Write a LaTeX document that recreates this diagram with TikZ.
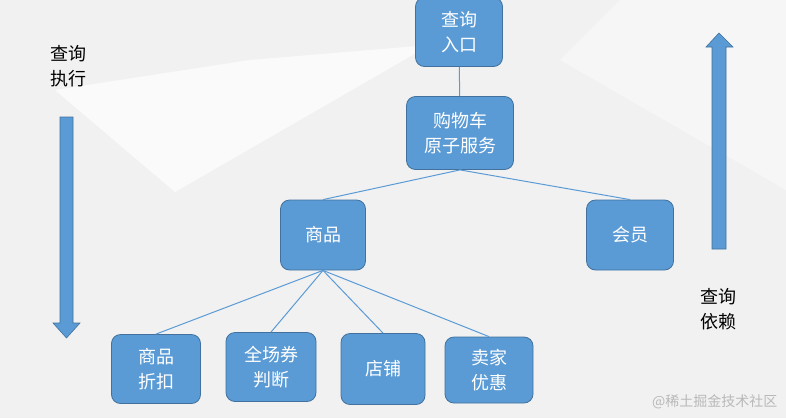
\documentclass[tikz,border=0pt]{standalone}
\usepackage{fontspec}
\setmainfont{Noto Sans CJK SC}
\definecolor{boxblue}{HTML}{5B9BD5}
\definecolor{boxline}{HTML}{41719C}
\definecolor{bggray}{HTML}{F1F1F1}

\begin{document}
\begin{tikzpicture}[x=1pt,y=-1pt,
	box/.style={rectangle,rounded corners=9pt,draw=boxline,fill=boxblue,text=white,
		font=\fontsize{18}{25}\selectfont,align=center,inner sep=0pt,line width=0.8pt},
	link/.style={draw=boxblue,line width=1pt},
	bigarrow/.style={draw=boxline,fill=boxblue,line width=0.6pt},
	side/.style={align=center,font=\fontsize{18}{25}\selectfont,text=black},
	]
	
	% background
	\useasboundingbox (0,0) rectangle (786,418);
	\fill[bggray] (0,0) rectangle (786,418);
	\fill[white,opacity=0.7] (55,90) -- (175,192) -- (430,45) -- (250,60) -- cycle;
	\fill[white,opacity=0.4] (560,60) -- (786,190) -- (786,0) -- (620,0) -- cycle;
	
	% tree
	\node[box,minimum width=87pt,minimum height=69pt] (entry) at (459,32) {查询\\入口};
	\node[box,minimum width=107pt,minimum height=73pt] (cart) at (460,133) {购物车\\原子服务};
	\node[box,minimum width=85pt,minimum height=70pt] (goods) at (323,235) {商品};
	\node[box,minimum width=87pt,minimum height=70pt] (member) at (630,235) {会员};
	
	\node[box,minimum width=89pt,minimum height=69pt] (discount) at (156,369) {商品\\折扣};
	\node[box,minimum width=90pt,minimum height=69pt] (coupon) at (271,367) {全场券\\判断};
	\node[box,minimum width=84pt,minimum height=71pt] (shop) at (383,369) {店铺};
	\node[box,minimum width=88pt,minimum height=66pt] (seller) at (489,370) {卖家\\优惠};
	
	\draw[link] (entry) -- (cart);
	\draw[link] (cart.south) -- (goods.north);
	\draw[link] (cart.south) -- (member.north);
	\foreach \leaf in {discount,coupon,shop,seller}
		\draw[link] (goods.south) -- (\leaf.north);
	
	% direction arrows
	\node[side] (exec) at (68,66) {查询\\执行};
	\draw[bigarrow] (60,117) -- (73,117) -- (73,323) -- (80,323) -- (66.5,338) -- (53,323) -- (60,323) -- cycle;
	
	\node[side] (dep) at (718,309) {查询\\依赖};
	\draw[bigarrow] (712,249) -- (726,249) -- (726,47) -- (733,47) -- (719,33) -- (706,47) -- (712,47) -- cycle;
	
	\node[text=gray!55,font=\fontsize{14}{16}\selectfont,anchor=east] (mark) at (781,402) {@稀土掘金技术社区};

\end{tikzpicture}
\end{document}
